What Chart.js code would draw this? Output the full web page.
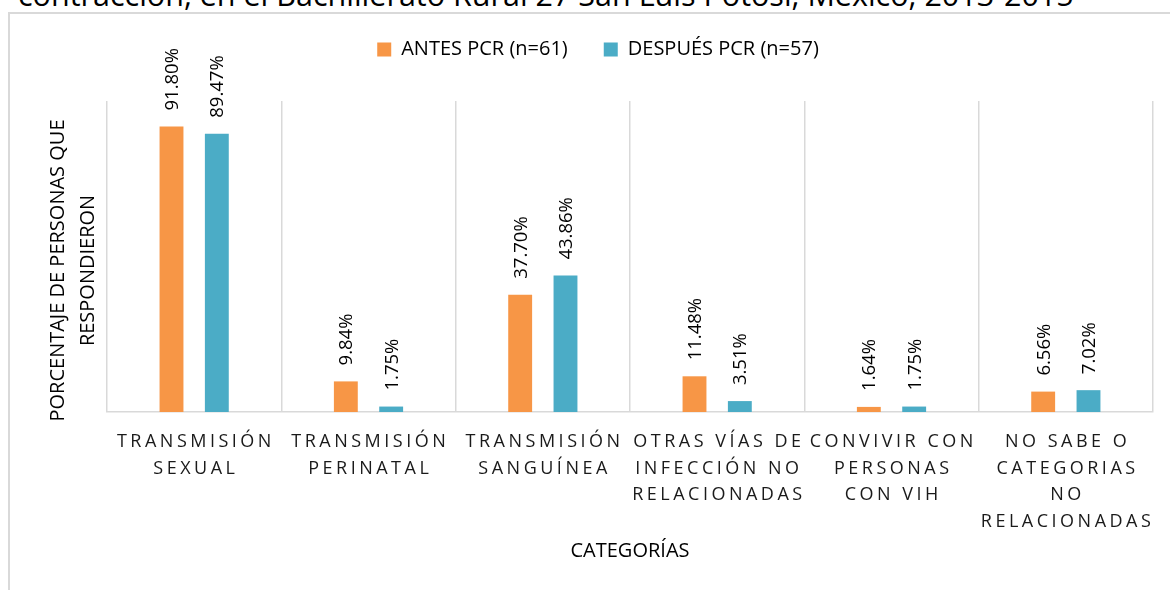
<!DOCTYPE html>
<html>
<head>
<meta charset="utf-8">
<script src="https://cdn.jsdelivr.net/npm/chart.js@4/dist/chart.umd.min.js"></script>
<style>
html,body{margin:0;padding:0;background:#fff;width:1170px;height:590px;overflow:hidden;position:relative}
#frame{position:absolute;left:8px;top:12px;width:1300px;height:800px;border-top:2px solid #d9d9d9;border-left:2px solid #d9d9d9;box-sizing:border-box}
#title{position:absolute;left:18px;top:-21px;font-family:'Open Sans',sans-serif;font-size:30.5px;line-height:30px;white-space:nowrap;color:#000}
#c{position:absolute;left:0;top:0}
</style>
</head>
<body>
<div id="title">contracción, en el Bachillerato Rural 27 San Luis Potosí, México, 2013-2015</div>
<div id="frame"></div>
<canvas id="c" width="1170" height="590"></canvas>
<script>
const categories = [
  ['TRANSMISIÓN', 'SEXUAL'],
  ['TRANSMISIÓN', 'PERINATAL'],
  ['TRANSMISIÓN', 'SANGUÍNEA'],
  ['OTRAS VÍAS DE', 'INFECCIÓN NO', 'RELACIONADAS'],
  ['CONVIVIR CON', 'PERSONAS', 'CON VIH'],
  ['NO SABE O', 'CATEGORIAS', 'NO', 'RELACIONADAS']
];
const antesPCR = [91.80, 9.84, 37.70, 11.48, 1.64, 6.56];
const despuesPCR = [89.47, 1.75, 43.86, 3.51, 1.75, 7.02];
const seriesNames = ['ANTES PCR (n=61)', 'DESPUÉS PCR (n=57)'];
const seriesColors = ['#F79646', '#4BACC6'];
const yTitle = ['PORCENTAJE DE PERSONAS QUE', 'RESPONDIERON'];
const xTitle = 'CATEGORÍAS';

const FONT = "'Open Sans', sans-serif";

const legendSpacing = {
  id: 'legendSpacing',
  beforeInit(chart) {
    const origFit = chart.legend.fit;
    chart.legend.fit = function () {
      origFit.bind(chart.legend)();
      this.height += 31.5;
    };
  }
};

// shift the y-axis title slightly down, as in the reference
const yTitleShift = {
  id: 'yTitleShift',
  afterLayout(chart) {
    const s = chart.scales.y;
    if (s && !s._shiftPatched) {
      const orig = s.drawTitle;
      s.drawTitle = function () {
        this.ctx.save();
        this.ctx.translate(0, 14);
        orig.apply(this, arguments);
        this.ctx.restore();
      };
      s._shiftPatched = true;
    }
  }
};

function drawSpaced(ctx, text, cx, y, ls) {
  const chars = Array.from(text);
  const widths = chars.map(ch => ctx.measureText(ch).width);
  const total = widths.reduce((a, b) => a + b, 0) + ls * (chars.length - 1);
  let x = cx - total / 2;
  ctx.textAlign = 'left';
  chars.forEach((ch, i) => { ctx.fillText(ch, x, y); x += widths[i] + ls; });
}

const xLabels = {
  id: 'xLabels',
  afterDraw(chart) {
    const s = chart.scales.x;
    const ctx = chart.ctx;
    ctx.save();
    ctx.font = '18px ' + FONT;
    ctx.fillStyle = '#1a1a1a';
    ctx.textBaseline = 'alphabetic';
    categories.forEach((lines, i) => {
      const cx = s.getPixelForTick(i);
      lines.forEach((t, j) => drawSpaced(ctx, t, cx, s.top + 35 + j * 26.5, 3.5));
    });
    ctx.restore();
  }
};

const dataLabels = {
  id: 'dataLabels',
  afterDatasetsDraw(chart) {
    const ctx = chart.ctx;
    ctx.save();
    ctx.font = '18.5px ' + FONT;
    ctx.fillStyle = '#000';
    ctx.textAlign = 'left';
    ctx.textBaseline = 'alphabetic';
    chart.data.datasets.forEach((ds, di) => {
      const meta = chart.getDatasetMeta(di);
      meta.data.forEach((bar, i) => {
        const txt = ds.data[i].toFixed(2) + '%';
        ctx.save();
        ctx.translate(bar.x, bar.y - 16);
        ctx.rotate(-Math.PI / 2);
        ctx.fillText(txt, 0, 6.6);
        ctx.restore();
      });
    });
    ctx.restore();
  }
};

new Chart(document.getElementById('c'), {
  type: 'bar',
  data: {
    labels: categories,
    datasets: [
      { label: seriesNames[0], data: antesPCR, backgroundColor: seriesColors[0], barPercentage: 0.527, categoryPercentage: 0.52 },
      { label: seriesNames[1], data: despuesPCR, backgroundColor: seriesColors[1], barPercentage: 0.527, categoryPercentage: 0.52 }
    ]
  },
  options: {
    responsive: false,
    animation: false,
    devicePixelRatio: 1,
    layout: { padding: { top: 3.5, left: 43, right: 17, bottom: 27 } },
    plugins: {
      legend: {
        position: 'top',
        align: 'center',
        labels: {
          font: { family: FONT, size: 20 },
          color: '#000',
          boxWidth: 14,
          boxHeight: 14,
          padding: 36
        }
      },
      tooltip: { enabled: false }
    },
    scales: {
      x: {
        offset: true,
        grid: { display: true, color: '#D9D9D9', lineWidth: 1.5, drawTicks: false, offset: true },
        border: { display: true, color: '#D9D9D9', width: 1.5 },
        ticks: {
          autoSkip: false, maxRotation: 0, minRotation: 0,
          padding: 10,
          color: 'rgba(0,0,0,0)',
          font: { family: FONT, size: 18, lineHeight: 26.5 / 18 }
        },
        title: {
          display: true, text: xTitle, color: '#000',
          font: { family: FONT, size: 20, lineHeight: 1.2 },
          padding: { top: 1, bottom: 0 }
        }
      },
      y: {
        min: 0, max: 100,
        grid: { display: false, drawTicks: false },
        border: { display: false },
        ticks: { display: false },
        title: {
          display: true, text: yTitle, color: '#000',
          font: { family: FONT, size: 20, lineHeight: 1.5 },
          padding: { top: 0, bottom: 4 }
        }
      }
    }
  },
  plugins: [legendSpacing, yTitleShift, xLabels, dataLabels]
});
</script>
</body>
</html>
